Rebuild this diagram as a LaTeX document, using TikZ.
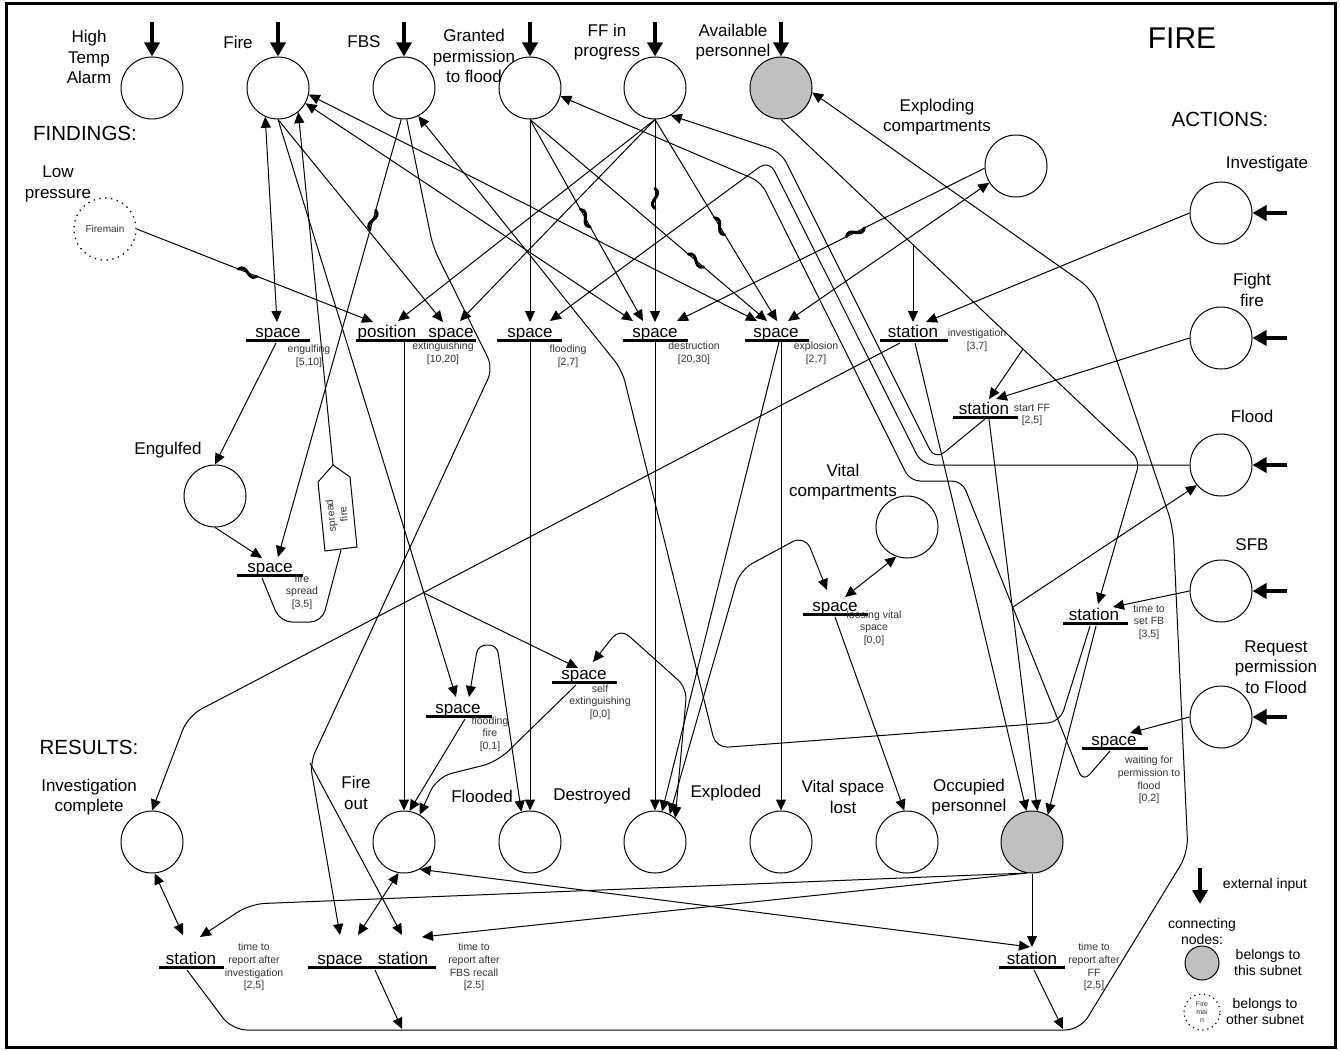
\documentclass[tikz,border=0pt]{standalone}
\usepackage{fontspec}
\setmainfont{Liberation Sans}
\usetikzlibrary{arrows.meta,decorations.markings}
\definecolor{gfill}{RGB}{192,192,192}
\definecolor{lbl}{RGB}{50,50,50}
\tikzset{
 pl/.style={circle, draw, line width=1pt, minimum size=62pt, inner sep=0pt},
 cpl/.style={circle, draw, fill=gfill, line width=1pt, minimum size=62pt, inner sep=0pt},
 xpl/.style={circle, draw, line width=1.3pt, dash pattern=on 1.3pt off 4.6pt, minimum size=62pt, inner sep=0pt},
 conna/.style={line width=1pt, -{Triangle[length=11pt,width=10pt]}},
 connd/.style={line width=1pt, {Triangle[length=11pt,width=10pt]}-{Triangle[length=11pt,width=10pt]}},
 pline/.style={line width=1pt},
 extin/.style={line width=3.5pt, -{Triangle[length=14pt,width=15pt]}},
 tbar/.style={line width=3pt},
 biglab/.style={font=\fontsize{17}{20.5}\selectfont, align=center, inner sep=0pt},
 smlab/.style={font=\fontsize{10.5}{12.7}\selectfont, align=center, inner sep=0pt, text=lbl},
 leglab/.style={font=\fontsize{14}{16}\selectfont, align=center, inner sep=0pt},
 tlab/.style={font=\fontsize{17}{20}\selectfont, anchor=base, inner sep=0pt},
 hdlab/.style={font=\fontsize{20.5}{24}\selectfont, inner sep=0pt},
 negm/.style={postaction={decorate, decoration={markings, mark=at position #1 with {\draw[line width=3pt, -, line cap=round] (-10pt,0pt) .. controls (-3pt,9pt) and (3pt,-9pt) .. (10pt,0pt);}}}},
}
\begin{document}
\begin{tikzpicture}[x=1pt,y=-1pt]
\useasboundingbox (0,0) rectangle (1340,1051);
\draw[line width=3pt] (6,4) rectangle (1335,1047);

% ---------- places ----------
\node[pl] (hta) at (152,88) {};
\node[pl] (fire) at (278,88) {};
\node[pl] (fbs) at (404,88) {};
\node[pl] (granted) at (530,88) {};
\node[pl] (ffp) at (655,88) {};
\node[cpl] (avail) at (781,88) {};
\node[pl] (expl) at (1016,166) {};
\node[pl] (invg) at (1221,213) {};
\node[pl] (fight) at (1221,338) {};
\node[pl] (flood) at (1221,465) {};
\node[pl] (sfb) at (1221,591) {};
\node[pl] (reqp) at (1221,717) {};
\node[xpl, font=\fontsize{10}{12}\selectfont, text=lbl] (firemain) at (105,229) {Firemain};
\node[pl] (engulfed) at (215,496) {};
\node[pl] (vital) at (907,527) {};
\node[pl] (invc) at (152,842) {};
\node[pl] (fireout) at (404,842) {};
\node[pl] (flooded) at (530,842) {};
\node[pl] (destroyed) at (655,842) {};
\node[pl] (exploded) at (781,842) {};
\node[pl] (vsl) at (907,842) {};
\node[cpl] (occ) at (1032,842) {};

% ---------- external inputs ----------
\foreach \n in {hta,fire,fbs,granted,ffp,avail} \draw[extin] ([yshift=34pt]\n.north) -- (\n.north);
\foreach \n in {invg,fight,flood,sfb,reqp} \draw[extin] ([xshift=34pt]\n.east) -- (\n.east);

% ---------- place labels ----------
\node[biglab] (l1) at (89,57) {High\\Temp\\Alarm};
\node[biglab] (l2) at (238,42) {Fire};
\node[biglab] (l3) at (364,42) {FBS};
\node[biglab] (l4) at (474,56) {Granted\\permission\\to flood};
\node[biglab] (l5) at (607,42) {FF in\\progress};
\node[biglab] (l6) at (733,42) {Available\\personnel};
\node[font=\fontsize{30}{36}\selectfont, inner sep=0pt] (l7) at (1182,38) {FIRE};
\node[biglab] (l8) at (937,117) {Exploding\\compartments};
\node[hdlab] (l9) at (1220,119) {ACTIONS:};
\node[biglab] (l10) at (1267,164) {Investigate};
\node[biglab] (l11) at (1252,290) {Fight\\fire};
\node[biglab] (l12) at (1252,416) {Flood};
\node[biglab] (l13) at (1252,545) {SFB};
\node[biglab] (l14) at (1276,667) {Request\\permission\\to Flood};
\node[hdlab] (l15) at (85,133) {FINDINGS:};
\node[biglab] (l16) at (58,184) {Low\\pressure};
\node[biglab] (l17) at (168,450) {Engulfed};
\node[biglab] (l18) at (843,482) {Vital\\compartments};
\node[hdlab] (l19) at (89,747) {RESULTS:};
\node[biglab] (l20) at (89,797) {Investigation\\complete};
\node[biglab] (l21) at (356,793) {Fire\\out};
\node[biglab] (l22) at (482,796) {Flooded};
\node[biglab] (l23) at (592,796) {Destroyed};
\node[biglab] (l24) at (726,793) {Exploded};
\node[biglab] (l25) at (843,797) {Vital space\\lost};
\node[biglab] (l26) at (969,797) {Occupied\\personnel};

% ---------- transitions ----------
\draw[tbar] (246,340) -- (310,340);
\draw[tbar] (356,340) -- (476,340);
\draw[tbar] (497,340) -- (562,340);
\draw[tbar] (623,340) -- (688,340);
\draw[tbar] (745,340) -- (809,340);
\draw[tbar] (880,340) -- (948,340);
\draw[tbar] (953,417) -- (1018,417);
\draw[tbar] (1063,623) -- (1128,623);
\draw[tbar] (1082,748) -- (1148,748);
\draw[tbar] (803,614) -- (868,614);
\draw[tbar] (552,682) -- (617,682);
\draw[tbar] (426,716) -- (492,716);
\draw[tbar] (237,575) -- (303,575);
\draw[tbar] (159,967) -- (224,967);
\draw[tbar] (308,967) -- (436,967);
\draw[tbar] (999,967) -- (1065,967);

\node[tlab] (nEng) at (278,337) {space};
\node[tlab] (nPos) at (387,337) {position};
\node[tlab] (nExt) at (451,337) {space};
\node[tlab] (nFl) at (530,337) {space};
\node[tlab] (nDe) at (655,337) {space};
\node[tlab] (nEx) at (776,337) {space};
\node[tlab] (nIn) at (913,337) {station};
\node[tlab] (nSF) at (984,414) {station};
\node[tlab] (nSB) at (1094,620) {station};
\node[tlab] (nWa) at (1114,745) {space};
\node[tlab] (nLo) at (835,611) {space};
\node[tlab] (nSe) at (584,679) {space};
\node[tlab] (nFF) at (458,713) {space};
\node[tlab] (nSp) at (270,572) {space};
\node[tlab] (nRI) at (191,964) {station};
\node[tlab] (nBo1) at (340,964) {space};
\node[tlab] (nBo2) at (403,964) {station};
\node[tlab] (nRF) at (1032,964) {station};

\node[smlab] (s1) at (309,356) {engulfing\\{}[5,10]};
\node[smlab] (s2) at (443,353) {extinguishing\\{}[10,20]};
\node[smlab] (s3) at (568,356) {flooding\\{}[2,7]};
\node[smlab] (s4) at (694,353) {destruction\\{}[20,30]};
\node[smlab] (s5) at (816,353) {explosion\\{}[2,7]};
\node[smlab] (s6) at (977,340) {investigation\\{}[3,7]};
\node[smlab] (s7) at (1032,415) {start FF\\{}[2,5]};
\node[smlab] (s8) at (1149,622) {time to\\set FB\\{}[3,5]};
\node[smlab] (s9) at (1149,780) {waiting for\\permission to\\flood\\{}[0,2]};
\node[smlab] (s10) at (874,628) {loosing vital\\space\\{}[0,0]};
\node[smlab] (s11) at (600,702) {self\\extinguishing\\{}[0,0]};
\node[smlab] (s12) at (490,734) {flooding\\fire\\{}[0,1]};
\node[smlab] (s13) at (302,592) {fire\\spread\\{}[3,5]};
\node[smlab] (s14) at (254,967) {time to\\report after\\investigation\\{}[2,5]};
\node[smlab] (s15) at (474,967) {time to\\report after\\FBS recall\\{}[2.5]};
\node[smlab] (s16) at (1094,967) {time to\\report after\\FF\\{}[2,5]};

% spread fire box
\coordinate (sbtop) at (333,465);
\coordinate (sbbot) at (341,550);
\draw[line width=1pt] (318,482) -- (sbtop) -- (350,477) -- (357,547) -- (325,551) -- cycle;
\node[rotate=96, font=\fontsize{10.5}{12.7}\selectfont, align=center, text=lbl, inner sep=0pt] (sbt) at (337,515) {spread\\fire};

% ---------- connector end coordinates ----------
\coordinate (tEng-i) at (277,322);
\coordinate (tEng-o) at (276,343);
\coordinate (tPos-i1) at (373,322);
\coordinate (tPos-i2) at (398,321);
\coordinate (tExt-i1) at (443,322);
\coordinate (tExt-i2) at (460,321);
\coordinate (tExt-o) at (404,342);
\coordinate (tFl-i1) at (530,322);
\coordinate (tFl-i2) at (550,321);
\coordinate (tFl-o) at (530,342);
\coordinate (tDe-i1) at (633,321);
\coordinate (tDe-i2) at (643,321);
\coordinate (tDe-i3) at (655,322);
\coordinate (tDe-i4) at (677,321);
\coordinate (tDe-o) at (655,342);
\coordinate (tEx-i1) at (757,321);
\coordinate (tEx-i2) at (767,321);
\coordinate (tEx-i3) at (777,321);
\coordinate (tEx-i4) at (788,321);
\coordinate (tEx-o1) at (781,342);
\coordinate (tEx-o2) at (779,342);
\coordinate (tIn-i1) at (913,322);
\coordinate (tIn-i2) at (926,322);
\coordinate (tIn-o1) at (900,343);
\coordinate (tIn-o2) at (915,343);
\coordinate (tSF-i1) at (989,399);
\coordinate (tSF-i2) at (996,399);
\coordinate (tSF-o1) at (985,419);
\coordinate (tSF-o2) at (989,419);
\coordinate (tSB-i1) at (1098,604);
\coordinate (tSB-i2) at (1113,607);
\coordinate (tSB-o1) at (1090,626);
\coordinate (tSB-o2) at (1096,626);
\coordinate (tWa-i) at (1130,733);
\coordinate (tWa-o) at (1110,751);
\coordinate (tLo-i1) at (845,597);
\coordinate (tLo-i2) at (827,590);
\coordinate (tLo-o) at (835,617);
\coordinate (tSe-i1) at (578,668);
\coordinate (tSe-i2) at (593,662);
\coordinate (tSe-o) at (576,685);
\coordinate (tFF-i1) at (456,697);
\coordinate (tFF-i2) at (469,697);
\coordinate (tFF-o) at (465,719);
\coordinate (tSp-i1) at (262,558);
\coordinate (tSp-i2) at (278,557);
\coordinate (tSp-o) at (262,578);
\coordinate (tRI-i1) at (183,935);
\coordinate (tRI-i2) at (200,937);
\coordinate (tRI-o) at (187,970);
\coordinate (tBo-i1) at (340,935);
\coordinate (tBo-i2) at (358,935);
\coordinate (tBo-i3) at (402,935);
\coordinate (tBo-i4) at (422,937);
\coordinate (tBo-o) at (375,970);
\coordinate (tRF-i1) at (1030,947);
\coordinate (tRF-i2) at (1032,947);
\coordinate (tRF-o) at (1034,970);
\coordinate (ret1) at (402,1029);
\coordinate (ret2) at (1063,1029);
\coordinate (jAv1) at (913,244);
\coordinate (jAv2) at (1023,349);
\coordinate (jAvC) at (1140,460);
\coordinate (jFS) at (424,593);
\coordinate (jFBS) at (310,763);
\coordinate (jA) at (1013,607);

% ---------- connectors ----------
% Fire
\draw[connd] (fire.-114) -- (tEng-i);
\draw[conna] (sbtop) -- (fire.-50);
\draw[conna] (fire.south) -- (tFF-i1);
\draw[conna] (jFS) -- (tSe-i1);
\draw[conna] (fire.south) -- (tExt-i1);
\draw[connd] (fire.-12) -- (tEx-i1);
\draw[connd] (fire.-29) -- (tDe-i1);
% FBS
\draw[conna, negm=0.23] (fbs.-95) -- (tSp-i2);
\draw[conna, rounded corners=12] (fbs.-85) -- (433,247) -- (493,368) -- (jFBS) -- (tBo-i1);
\draw[conna] (jFBS) -- (tBo-i3);
\draw[conna, rounded corners=12] (tSB-o1) -- (1060,722) -- (716,748) -- (622,370) -- (fbs.-63);
% Granted
\draw[conna] (granted.south) -- (tFl-i1);
\draw[conna, negm=0.49] (granted.south) -- (tDe-i2);
\draw[conna, negm=0.7] (granted.south) -- (tEx-i2);
\draw[conna, rounded corners=10] (tWa-o) -- (1083,782) -- (962,481) -- (910,481) -- (761,182) -- (granted.-15);
\draw[conna] (jA) -- (flood.-140);
% FF in progress
\draw[conna, negm=0.39] (ffp.south) -- (tDe-i3);
\draw[conna, negm=0.53] (ffp.south) -- (tEx-i3);
\draw[conna] (ffp.south) -- (tExt-i2);
\draw[conna] (ffp.south) -- (tPos-i2);
\draw[conna, rounded corners=12] (tSF-o1) -- (935,460) -- (781,152) -- (ffp.-60);
% Available personnel
\draw[conna, rounded corners=10] (avail.south) -- (jAvC) -- (tSB-i1);
\draw[conna] (jAv1) -- (tIn-i1);
\draw[conna] (jAv2) -- (tSF-i1);
\draw[conna, rounded corners=15] (tRI-o) -- (232,1030) -- (1080,1030) -- (1188,853) -- (1173,527) -- (1093,290) -- (avail.-8);
\draw[conna] (tBo-o) -- (ret1);
\draw[conna] (tRF-o) -- (ret2);
% Exploding compartments
\draw[conna, negm=0.42] (expl.184) -- (tDe-i4);
\draw[connd] (tEx-i4) -- (expl.-148);
% actions
\draw[conna] (invg.west) -- (tIn-i2);
\draw[conna] (fight.west) -- (tSF-i2);
\draw[conna, rounded corners=12] (flood.west) -- (922,465) -- (769,160) -- (tFl-i2);
\draw[conna] (sfb.west) -- (tSB-i2);
\draw[conna] (reqp.west) -- (tWa-i);
% Firemain
\draw[conna, negm=0.47] (firemain.east) -- (tPos-i1);
% transition outputs
\draw[conna] (tEng-o) -- (engulfed.north);
\draw[conna] (engulfed.south) -- (tSp-i1);
\draw[pline, rounded corners=12] (tSp-o) -- (280,622) -- (322,622) -- (sbbot);
\draw[conna] (tExt-o) -- (fireout.north);
\draw[conna] (tFl-o) -- (flooded.north);
\draw[conna] (tDe-o) -- (destroyed.north);
\draw[conna] (tEx-o1) -- (exploded.north);
\draw[conna] (tEx-o2) -- (destroyed.77);
\draw[conna, rounded corners=15] (tIn-o1) -- (188,716) -- (invc.north);
\draw[conna] (tIn-o2) -- (occ.100);
\draw[conna] (tSF-o2) -- (occ.80);
\draw[conna] (tSB-o2) -- (occ.60);
\draw[connd] (tLo-i1) -- (vital.-110);
\draw[connd, rounded corners=14] (tLo-i2) -- (805,535) -- (740,570) -- (destroyed.62);
\draw[conna] (tLo-o) -- (vsl.95);
\draw[connd, rounded corners=12] (tSe-i2) -- (620,628) -- (687,688) -- (destroyed.50);
\draw[conna, rounded corners=15] (tSe-o) -- (497,762) -- (437,777) -- (fireout.60);
\draw[conna] (tFF-o) -- (fireout.80);
\draw[connd, rounded corners=8] (tFF-i2) -- (478,645) -- (497,645) -- (flooded.106);
\draw[connd] (fireout.-100) -- (tBo-i2);
\draw[connd] (fireout.-60) -- (tRF-i1);
\draw[conna, rounded corners=15] (occ.-100) -- (250,904) -- (tRI-i2);
\draw[conna] (occ.-100) -- (tBo-i4);
\draw[conna] (occ.south) -- (tRF-i2);
\draw[connd] (invc.-85) -- (tRI-i1);

% ---------- legend ----------
\coordinate (lgA) at (1200,868);
\coordinate (lgB) at (1200,904);
\draw[extin] (lgA) -- (lgB);
\node[leglab] (lg1) at (1265,885) {external input};
\node[leglab] (lg2) at (1202,931) {connecting\\nodes:};
\node[circle, draw, fill=gfill, line width=1pt, minimum size=34pt, inner sep=0pt] (lg3) at (1202,963) {};
\node[leglab] (lg4) at (1268,962) {belongs to\\this subnet};
\node[circle, draw, line width=1.2pt, dash pattern=on 1.2pt off 3.8pt, minimum size=36pt, inner sep=0pt, align=center, font=\fontsize{7}{8}\selectfont, text=lbl] (lg5) at (1202,1012) {Fire\\mai\\n};
\node[leglab] (lg6) at (1265,1011) {belongs to\\other subnet};
\end{tikzpicture}
\end{document}
